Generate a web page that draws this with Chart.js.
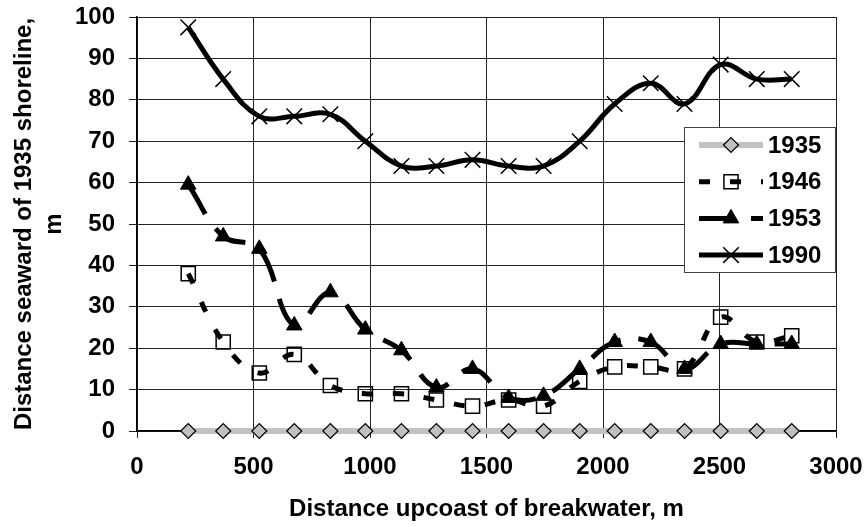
<!DOCTYPE html>
<html>
<head>
<meta charset="utf-8">
<script src="https://cdn.jsdelivr.net/npm/chart.js@4.4.1/dist/chart.umd.min.js"></script>
<style>
  html, body { margin: 0; padding: 0; background: #fff; }
  #wrap { width: 864px; height: 527px; }
</style>
</head>
<body>
<div id="wrap"><canvas id="shoreChart" width="864" height="527"></canvas></div>
<script>
// profile stations, m upcoast of the breakwater
const stations = [220, 370, 525, 675, 830, 980, 1135, 1285, 1440, 1595, 1745, 1900, 2050, 2205, 2350, 2505, 2660, 2810];

// shoreline position seaward of the 1935 line, m
const shore1935 = [0, 0, 0, 0, 0, 0, 0, 0, 0, 0, 0, 0, 0, 0, 0, 0, 0, 0];
const shore1946 = [38, 21.5, 14, 18.5, 11, 9, 9, 7.5, 6, 7.5, 6, 12, 15.5, 15.5, 15, 27.5, 21.5, 23];
const shore1953 = [59.5, 47, 44, 25.5, 33.5, 24.5, 19.5, 10.5, 15, 8, 8.5, 15, 21.5, 21.5, 15, 21, 21, 21];
const shore1990 = [97.5, 85, 76, 76, 76.5, 70, 64, 64, 65.5, 64, 64, 70, 79, 84, 79, 88.5, 85, 85];

const xTicks = [0, 500, 1000, 1500, 2000, 2500, 3000];
const yTicks = [0, 10, 20, 30, 40, 50, 60, 70, 80, 90, 100];

const FONT = '"Liberation Sans", Arial, sans-serif';

const toPoints = (ys) => ys.map((y, i) => ({ x: stations[i], y: y }));

// boxed legend sitting inside the plot, right edge on the frame
const legendBox = {
    id: 'legendBox',
    afterDraw(chart) {
        const { ctx, chartArea } = chart;
        const right = chartArea.right - 1;
        const left = right - 151;
        const top = chartArea.top + 110;
        const h = 145;

        ctx.save();
        ctx.fillStyle = '#fff';
        ctx.fillRect(left, top, right - left, h);
        ctx.strokeStyle = '#444';
        ctx.lineWidth = 1;
        ctx.strokeRect(left + 0.5, top + 0.5, right - left, h);

        chart.data.datasets.forEach((ds, i) => {
            const y = top + 18 + i * 36.7;
            ctx.setLineDash(ds.borderDash || []);
            ctx.lineDashOffset = 0;
            ctx.lineWidth = ds.borderWidth;
            ctx.strokeStyle = ds.borderColor;
            ctx.beginPath();
            ctx.moveTo(left + 15, y);
            ctx.lineTo(left + 79, y);
            ctx.stroke();
            ctx.setLineDash([]);

            ctx.fillStyle = ds.pointBackgroundColor;
            ctx.strokeStyle = ds.pointBorderColor;
            ctx.lineWidth = ds.pointBorderWidth;
            Chart.helpers.drawPoint(ctx, {
                pointStyle: ds.pointStyle,
                radius: ds.pointRadius,
                rotation: 0,
                borderWidth: ds.pointBorderWidth
            }, left + 47, y);

            ctx.fillStyle = '#000';
            ctx.font = 'bold 24px ' + FONT;
            ctx.textAlign = 'left';
            ctx.textBaseline = 'middle';
            ctx.fillText(ds.label, left + 84, y + 1);
        });
        ctx.restore();
    }
};

const ctx = document.getElementById('shoreChart');

new Chart(ctx, {
    type: 'line',
    data: {
        datasets: [
            {
                label: '1935',
                data: toPoints(shore1935),
                borderColor: '#c2c2c2',
                borderWidth: 6,
                pointStyle: 'rectRot',
                pointRadius: 7.5,
                pointBackgroundColor: '#c0c0c0',
                pointBorderColor: '#000',
                pointBorderWidth: 1.2,
                clip: false,
                order: 3
            },
            {
                label: '1946',
                data: toPoints(shore1946),
                borderColor: '#000',
                borderWidth: 5,
                borderDash: [11, 20],
                pointStyle: 'rect',
                pointRadius: 10,
                pointBackgroundColor: 'rgba(255,255,255,0)',
                pointBorderColor: '#000',
                pointBorderWidth: 1.5,
                clip: false,
                order: 2
            },
            {
                label: '1953',
                data: toPoints(shore1953),
                borderColor: '#000',
                borderWidth: 5,
                borderDash: [34, 18],
                pointStyle: 'triangle',
                pointRadius: 9,
                pointBackgroundColor: '#000',
                pointBorderColor: '#000',
                pointBorderWidth: 1,
                clip: false,
                order: 1
            },
            {
                label: '1990',
                data: toPoints(shore1990),
                borderColor: '#000',
                borderWidth: 5,
                pointStyle: 'crossRot',
                pointRadius: 11,
                pointBackgroundColor: '#000',
                pointBorderColor: '#000',
                pointBorderWidth: 1.5,
                clip: false,
                order: 0
            }
        ]
    },
    options: {
        responsive: false,
        animation: false,
        layout: {
            padding: { top: 17, right: 28, bottom: 0, left: 0 }
        },
        elements: {
            line: { tension: 0.4, fill: false }
        },
        plugins: {
            legend: { display: false },
            tooltip: { enabled: false }
        },
        scales: {
            x: {
                type: 'linear',
                min: 0,
                max: 3000,
                afterFit: (s) => {
                    s.height = 96;
                    s.paddingLeft = 0;
                    s.paddingRight = 0;
                },
                afterBuildTicks: (s) => { s.ticks = xTicks.map(v => ({ value: v })); },
                grid: { color: '#222', lineWidth: 1, tickLength: 7 },
                border: { color: '#000', width: 1.5 },
                ticks: {
                    color: '#000',
                    padding: 15,
                    maxRotation: 0,
                    callback: (v) => String(v),
                    font: { family: FONT, size: 24, weight: 'bold' }
                },
                title: {
                    display: true,
                    text: 'Distance upcoast of breakwater, m',
                    color: '#000',
                    padding: { top: 0, bottom: 3 },
                    font: { family: FONT, size: 24, weight: 'bold' }
                }
            },
            y: {
                min: 0,
                max: 100,
                afterFit: (s) => {
                    s.width = 137;
                    s.paddingTop = 0;
                    s.paddingBottom = 0;
                },
                afterBuildTicks: (s) => { s.ticks = yTicks.map(v => ({ value: v })); },
                grid: { color: '#222', lineWidth: 1, tickLength: 8 },
                border: { color: '#000', width: 1.5 },
                ticks: {
                    color: '#000',
                    padding: 14,
                    callback: (v) => String(v),
                    font: { family: FONT, size: 24, weight: 'bold' }
                },
                title: {
                    display: true,
                    text: ['Distance seaward of 1935 shoreline,', 'm'],
                    color: '#000',
                    padding: { top: 9, bottom: 0 },
                    font: { family: FONT, size: 24, weight: 'bold', lineHeight: 1.25 }
                }
            }
        }
    },
    plugins: [legendBox]
});
</script>
</body>
</html>
